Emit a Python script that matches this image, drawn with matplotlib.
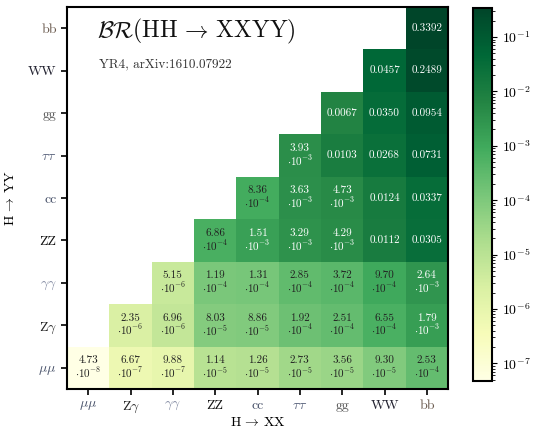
import numpy as np
import matplotlib
matplotlib.use("Agg")
import matplotlib.pyplot as plt
from matplotlib.colors import LogNorm
from matplotlib.ticker import NullFormatter, LogFormatterSciNotation

plt.rcParams['font.family'] = 'serif'
plt.rcParams['font.serif'] = ['cmr10', 'DejaVu Serif']
plt.rcParams['mathtext.fontset'] = 'cm'
plt.rcParams['axes.formatter.use_mathtext'] = True

# decay channels (same order on both axes)
channels = [r'$\mu\mu$', r'Z$\gamma$', r'$\gamma\gamma$', 'ZZ', 'cc', r'$\tau\tau$', 'gg', 'WW', 'bb']
label_colors = ['#465068', '#222222', '#8088a0', '#111111', '#465068', '#56607a', '#555555', '#222230', '#6a5a4e']
cbar_ticks = [1e-7, 1e-6, 1e-5, 1e-4, 1e-3, 1e-2, 1e-1]

# BR values, one row per Y channel (bottom to top), starting at X == Y
row_mumu = [4.73e-8, 6.67e-7, 9.88e-7, 1.14e-5, 1.26e-5, 2.73e-5, 3.56e-5, 9.30e-5, 2.53e-4]
row_zgam = [2.35e-6, 6.96e-6, 8.03e-5, 8.86e-5, 1.92e-4, 2.51e-4, 6.55e-4, 1.79e-3]
row_gamgam = [5.15e-6, 1.19e-4, 1.31e-4, 2.85e-4, 3.72e-4, 9.70e-4, 2.64e-3]
row_zz = [6.86e-4, 1.51e-3, 3.29e-3, 4.29e-3, 0.0112, 0.0305]
row_cc = [8.36e-4, 3.63e-3, 4.73e-3, 0.0124, 0.0337]
row_tautau = [3.93e-3, 0.0103, 0.0268, 0.0731]
row_gg = [0.0067, 0.0350, 0.0954]
row_ww = [0.0457, 0.2489]
row_bb = [0.3392]
rows = [row_mumu, row_zgam, row_gamgam, row_zz, row_cc, row_tautau, row_gg, row_ww, row_bb]

n = len(channels)
data = np.full((n, n), np.nan)
for j, r in enumerate(rows):
    for k, v in enumerate(r):
        data[j, j + k] = v
masked = np.ma.masked_invalid(data)

fig = plt.figure(figsize=(5.34, 4.30), dpi=100)
ax = fig.add_axes([0.1255, 0.0953, 0.7135, 0.8884])
cax = fig.add_axes([0.886, 0.114, 0.0356, 0.867])

norm = LogNorm(vmin=np.nanmin(data), vmax=np.nanmax(data))
mesh = ax.pcolormesh(np.arange(n + 1) - 0.5, np.arange(n + 1) - 0.5, masked,
                     cmap='YlGn', norm=norm)
ax.set_xlim(-0.5, n - 0.5)
ax.set_ylim(-0.5, n - 0.5)

for j in range(n):
    for i in range(n):
        v = data[j, i]
        if np.isnan(v):
            continue
        color = 'white' if v >= 1e-3 else '#222222'
        if v >= 0.005:
            s = f"{v:.4f}"
        else:
            e = int(np.floor(np.log10(v)))
            m = v / 10**e
            s = f"{m:.2f}\n" + r"$\cdot10^{" + str(e) + "}$"
        ax.text(i, j, s, ha='center', va='center', multialignment='center',
                fontsize=8, color=color, linespacing=1.0)

ax.set_xticks(range(n))
ax.set_yticks(range(n))
ax.set_xticklabels(channels, fontsize=10)
ax.set_yticklabels(channels, fontsize=10)
for t, c in zip(ax.get_xticklabels(), label_colors):
    t.set_color(c)
for t, c in zip(ax.get_yticklabels(), label_colors):
    t.set_color(c)
ax.tick_params(direction='out', length=4, width=1.2)
for s in ax.spines.values():
    s.set_linewidth(1.5)
ax.set_xlabel(r'H$\,\rightarrow\,$XX', fontsize=10, labelpad=1)
ax.set_ylabel(r'H$\,\rightarrow\,$YY', fontsize=10, labelpad=8)

ax.text(0.08, 0.975, r'$\mathcal{BR}$(HH$\,\rightarrow\,$XXYY)', transform=ax.transAxes,
        fontsize=17, ha='left', va='top', color='#111111')
ax.text(0.085, 0.865, 'YR4, arXiv:1610.07922', transform=ax.transAxes,
        fontsize=9.5, ha='left', va='top', color='#333333')

cb = fig.colorbar(mesh, cax=cax, ticks=cbar_ticks, format=LogFormatterSciNotation())
cb.outline.set_linewidth(1.5)
cax.yaxis.set_minor_formatter(NullFormatter())
cax.tick_params(labelsize=10)

fig.savefig('out.png', dpi=100)
